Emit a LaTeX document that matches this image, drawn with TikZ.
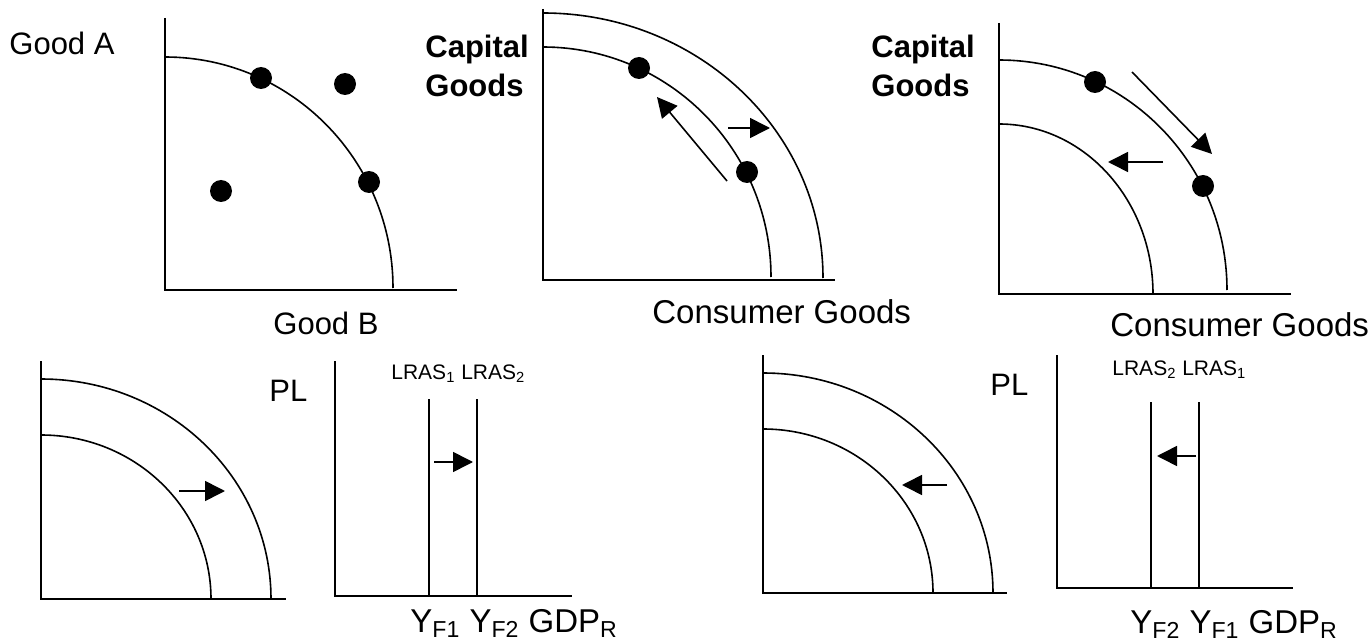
\documentclass[tikz,border=0pt]{standalone}
\usepackage{fontspec}
\setmainfont{Liberation Sans}
\usetikzlibrary{arrows.meta}
\tikzset{
  axis/.style ={line width=1pt},
  ppf/.style  ={line width=0.8pt},
  lras/.style ={line width=0.9pt},
  dot/.style  ={circle,fill=black,inner sep=0pt,minimum size=11pt},
  move/.style ={line width=0.8pt,-{Triangle[length=10pt,width=10pt]}},
  lbl/.style  ={inner sep=0pt,anchor=base west,font=\fontsize{15.5}{18}\selectfont},
  big/.style  ={lbl,font=\fontsize{16.5}{20}\selectfont},
  ttl/.style  ={lbl,font=\fontsize{15.5}{18}\selectfont\bfseries},
  sml/.style  ={lbl,font=\fontsize{10.5}{12}\selectfont},
}
\begin{document}
\begin{tikzpicture}[x=0.5pt,y=-0.5pt]
  \useasboundingbox (0,0) rectangle (1372,642);
  % good A / good B
  \draw[axis] (165,18) |- (457,290);
  \draw[ppf] (165,57) arc[start angle=-90,end angle=0,x radius=228,y radius=231];
  \node[dot] (ab1) at (261,78) {};  \node[dot] (ab2) at (345,84) {};
  \node[dot] (ab3) at (369,182) {}; \node[dot] (ab4) at (221,191) {};
  \node[lbl] (goodA) at (9,55) {Good A};
  \node[lbl] (goodB) at (273,334) {Good B};
  % growth
  \draw[axis] (543,9) |- (835,280);
  \draw[ppf] (543,47) arc[start angle=-90,end angle=0,x radius=228,y radius=230];
  \draw[ppf] (543,13) arc[start angle=-90,end angle=0,x radius=280,y radius=265];
  \node[dot] (gr1) at (639,68) {}; \node[dot] (gr2) at (747,172) {};
  \coordinate (gr3) at (727,181); \coordinate (gr4) at (657,97);
  \coordinate (gr5) at (728,128); \coordinate (gr6) at (770,128);
  \draw[move] (gr3) -- (gr4);
  \draw[move] (gr5) -- (gr6);
  \node[ttl] (capA) at (425,58) {Capital};
  \node[ttl] (capB) at (425,97) {Goods};
  \node[big] (conA) at (652,323) {Consumer Goods};
  % decline
  \draw[axis] (999,23) |- (1291,294);
  \draw[ppf] (999,60) arc[start angle=-90,end angle=0,x radius=228,y radius=230];
  \draw[ppf] (999,124) arc[start angle=-90,end angle=0,x radius=154,y radius=170];
  \node[dot] (dc1) at (1095,82) {}; \node[dot] (dc2) at (1203,186) {};
  \coordinate (dc3) at (1132,72);  \coordinate (dc4) at (1212,154);
  \coordinate (dc5) at (1163,162); \coordinate (dc6) at (1108,162);
  \draw[move] (dc3) -- (dc4);
  \draw[move] (dc5) -- (dc6);
  \node[ttl] (capC) at (871,58) {Capital};
  \node[ttl] (capD) at (871,97) {Goods};
  \node[big] (conB) at (1110,336) {Consumer Goods};
  % ppf out, lras right
  \draw[axis] (41,361) |- (286,599);
  \draw[ppf] (41,379) arc[start angle=-90,end angle=0,x radius=230,y radius=220];
  \draw[ppf] (41,435) arc[start angle=-90,end angle=0,x radius=170,y radius=164];
  \coordinate (po1) at (179,491); \coordinate (po2) at (225,491);
  \draw[move] (po1) -- (po2);
  \draw[axis] (335,361) |- (572,596);
  \draw[lras] (429,399) -- (429,596);
  \draw[lras] (477,399) -- (477,596);
  \coordinate (lr1) at (434,462); \coordinate (lr2) at (473,462);
  \draw[move] (lr1) -- (lr2);
  \node[lbl] (plA) at (269,401) {PL};
  \node[sml] (lrA) at (391,379) {LRAS\textsubscript{1} LRAS\textsubscript{2}};
  \node[big] (yfA) at (410,632) {Y\textsubscript{F1} Y\textsubscript{F2} GDP\textsubscript{R}};
  % ppf in, lras left
  \draw[axis] (763,355) |- (1007,593);
  \draw[ppf] (763,373) arc[start angle=-90,end angle=0,x radius=230,y radius=220];
  \draw[ppf] (763,429) arc[start angle=-90,end angle=0,x radius=170,y radius=164];
  \coordinate (pi1) at (947,485); \coordinate (pi2) at (902,485);
  \draw[move] (pi1) -- (pi2);
  \draw[axis] (1057,355) |- (1293,588);
  \draw[lras] (1151,402) -- (1151,588);
  \draw[lras] (1199,402) -- (1199,588);
  \coordinate (ll1) at (1196,456); \coordinate (ll2) at (1157,456);
  \draw[move] (ll1) -- (ll2);
  \node[lbl] (plB) at (990,395) {PL};
  \node[sml] (lrB) at (1112,375) {LRAS\textsubscript{2} LRAS\textsubscript{1}};
  \node[big] (yfB) at (1130,633) {Y\textsubscript{F2} Y\textsubscript{F1} GDP\textsubscript{R}};
\end{tikzpicture}
\end{document}
